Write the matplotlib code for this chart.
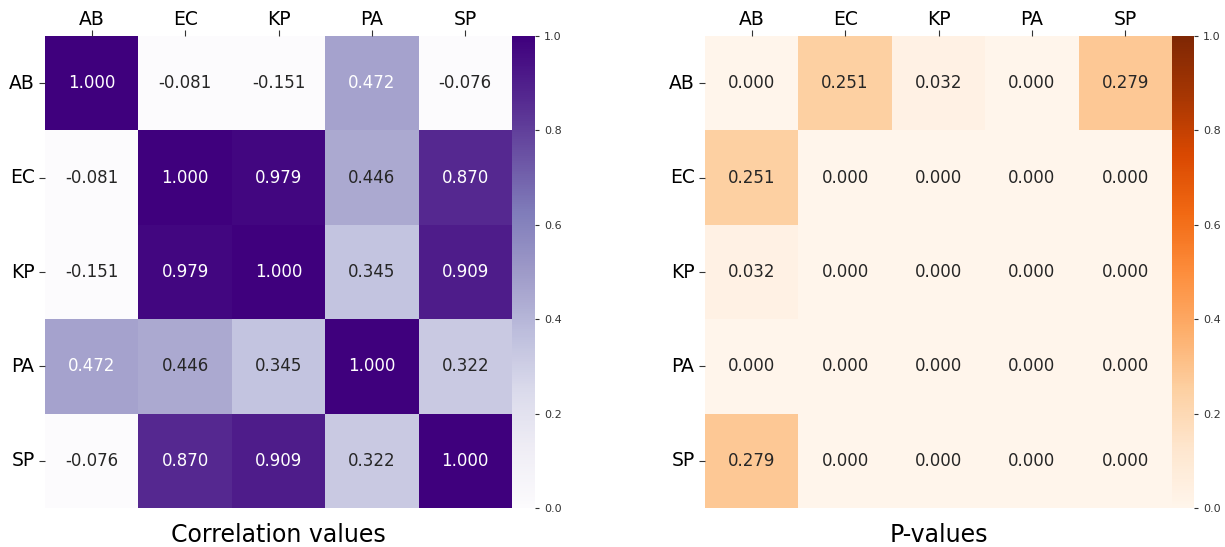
import matplotlib
matplotlib.use("Agg")
import matplotlib.pyplot as plt
import seaborn as sns
import numpy as np

labels = ["AB", "EC", "KP", "PA", "SP"]

corr = np.array([
    [1.000, -0.081, -0.151, 0.472, -0.076],
    [-0.081, 1.000, 0.979, 0.446, 0.870],
    [-0.151, 0.979, 1.000, 0.345, 0.909],
    [0.472, 0.446, 0.345, 1.000, 0.322],
    [-0.076, 0.870, 0.909, 0.322, 1.000],
])

pvals = np.array([
    [0.000, 0.251, 0.032, 0.000, 0.279],
    [0.251, 0.000, 0.000, 0.000, 0.000],
    [0.032, 0.000, 0.000, 0.000, 0.000],
    [0.000, 0.000, 0.000, 0.000, 0.000],
    [0.279, 0.000, 0.000, 0.000, 0.000],
])

W, H = 1225, 547
fig = plt.figure(figsize=(W / 100, H / 100), dpi=100)

def box(x0, y0, x1, y1):
    # pixel box (top-left origin) -> figure fraction
    return [x0 / W, 1 - y1 / H, (x1 - x0) / W, (y1 - y0) / H]

panels = [
    (corr, "Purples", "Correlation values", box(45, 36, 512, 508), box(512, 36, 535, 508)),
    (pvals, "Oranges", "P-values", box(705, 36, 1172, 508), box(1172, 36, 1194, 508)),
]

for data, cmap, title, axpos, cbpos in panels:
    ax = fig.add_axes(axpos)
    cax = fig.add_axes(cbpos)
    sns.heatmap(data, ax=ax, cbar_ax=cax, cmap=cmap, vmin=0, vmax=1,
                annot=True, fmt=".3f", annot_kws={"fontsize": 12},
                xticklabels=labels, yticklabels=labels)
    ax.xaxis.tick_top()
    ax.tick_params(axis="both", labelsize=13.5, length=4, color="#333333")
    ax.tick_params(axis="x", pad=1)
    ax.set_yticklabels(labels, rotation=0)
    ax.set_xlabel(title, fontsize=17, labelpad=11)
    ax.xaxis.set_label_position("bottom")
    cax.tick_params(labelsize=8, colors="#333333", length=3)

fig.savefig("out.png", dpi=100)
